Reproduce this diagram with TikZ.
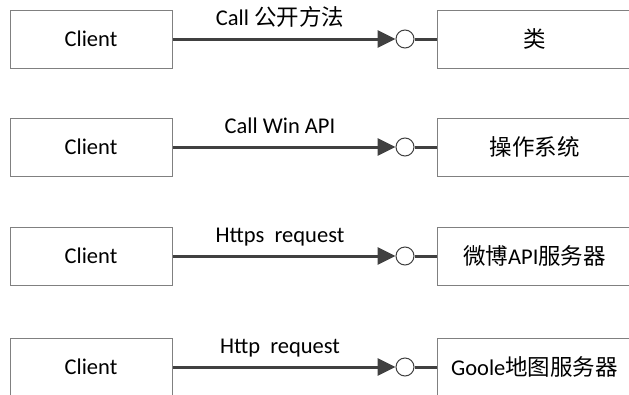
\documentclass[tikz,border=0pt]{standalone}
\usepackage{fontspec}
\setmainfont{Carlito}
\newfontfamily\cjk{Noto Sans CJK SC}
\usetikzlibrary{arrows.meta}
\begin{document}
\begin{tikzpicture}[x=1pt,y=-1pt,
 box/.style={draw=black!50, line width=1pt, minimum height=58pt, inner sep=0pt, font=\fontsize{22.5}{27}\selectfont},
 client/.style={box, minimum width=162pt},
 server/.style={box, minimum width=195pt},
 port/.style={circle, draw=black!75, line width=1pt, fill=white, minimum size=18pt, inner sep=0pt},
 call/.style={draw=black!75, line width=3pt, -{Triangle[length=18pt,width=17pt]}},
 link/.style={draw=black!75, line width=3pt},
 lbl/.style={font=\fontsize{22.5}{27}\selectfont, midway, anchor=base, inner sep=0pt, yshift=14pt, xshift=-4pt, text=black}]
\useasboundingbox (0,0) rectangle (629,394);
% row 1
\node[client] (c1) at (91,39) {Client};
\node[port] (p1) at (405,39) {};
\node[server] (s1) at (534.5,39) {\cjk 类};
\draw[call] (c1.east) -- (p1.west) node[lbl] {Call {\cjk 公开方法}};
\draw[link] (p1.east) -- (s1.west);
% row 2
\node[client] (c2) at (91,147) {Client};
\node[port] (p2) at (405,147) {};
\node[server] (s2) at (534.5,147) {\cjk 操作系统};
\draw[call] (c2.east) -- (p2.west) node[lbl] {Call Win API};
\draw[link] (p2.east) -- (s2.west);
% row 3
\node[client] (c3) at (91,256) {Client};
\node[port] (p3) at (405,256) {};
\node[server] (s3) at (534.5,256) {{\cjk 微博}API{\cjk 服务器}};
\draw[call] (c3.east) -- (p3.west) node[lbl] {Https\ \ request};
\draw[link] (p3.east) -- (s3.west);
% row 4
\node[client] (c4) at (91,367) {Client};
\node[port] (p4) at (405,367) {};
\node[server] (s4) at (534.5,367) {Goole{\cjk 地图服务器}};
\draw[call] (c4.east) -- (p4.west) node[lbl] {Http\ \ request};
\draw[link] (p4.east) -- (s4.west);
\end{tikzpicture}
\end{document}
